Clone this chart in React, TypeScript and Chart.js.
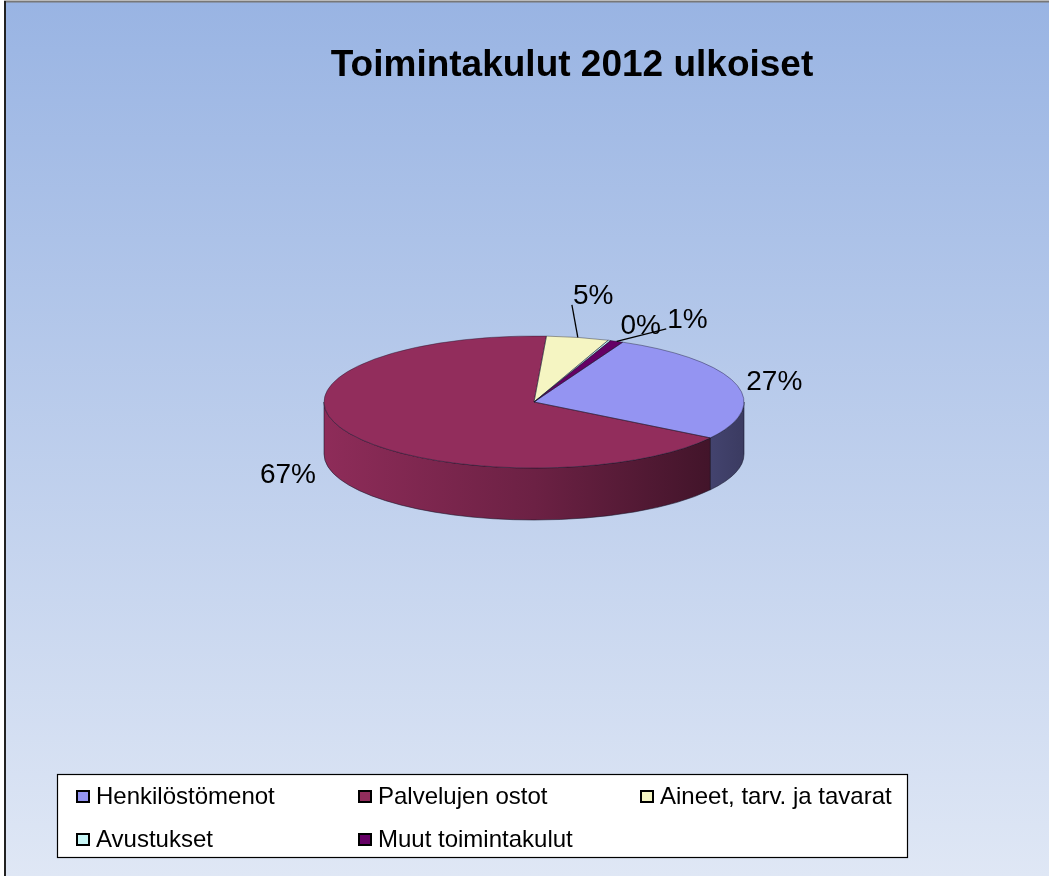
import React, { useEffect, useRef } from "react";
import { Chart, registerables } from "chart.js";

Chart.register(...registerables);

// ---- data ----
const TITLE = "Toimintakulut 2012 ulkoiset";
const CATEGORIES = [
  "Henkilöstömenot",
  "Palvelujen ostot",
  "Aineet, tarv. ja tavarat",
  "Avustukset",
  "Muut toimintakulut",
];
const VALUES = [27.2, 66.8, 4.8, 0.2, 1.0];
const COLORS = ["#9494F2", "#922D5C", "#F5F5C2", "#C8F7F7", "#650065"];

// ---- layout / style ----
const W = 1049;
const H = 876;
const CX = 534;
const CY = 402;
const RX = 210;
const RY = 66;
const DEPTH = 52;
const ROTATION = 25;
const LABEL_NUDGE_X = [0, -23, 7, 17, 55];
const LABEL_NUDGE_Y = [4, -18, -22, 5, -3];
const FONT = '"Liberation Sans", Arial, Helvetica, sans-serif';

function hexToRgb(hex: string) {
  const n = parseInt(hex.slice(1), 16);
  return [(n >> 16) & 255, (n >> 8) & 255, n & 255];
}
function shade(hex: string, f: number) {
  const [r, g, b] = hexToRgb(hex);
  return `rgb(${Math.round(r * f)},${Math.round(g * f)},${Math.round(b * f)})`;
}

function frontSegments(s: number, e: number) {
  const segs: [number, number][] = [];
  for (let k = -2; k <= 2; k++) {
    const lo = Math.max(s, 2 * Math.PI * k);
    const hi = Math.min(e, 2 * Math.PI * k + Math.PI);
    if (hi > lo) segs.push([lo, hi]);
  }
  return segs;
}

const pie3d = {
  id: "pie3d",
  beforeDraw(chart: any) {
    const ctx = chart.ctx as CanvasRenderingContext2D;
    ctx.save();
    ctx.fillStyle = "#ffffff";
    ctx.fillRect(0, 0, W, H);
    const g = ctx.createLinearGradient(0, 0, 0, H);
    g.addColorStop(0, "#99B4E3");
    g.addColorStop(1, "#DFE7F5");
    ctx.fillStyle = g;
    ctx.fillRect(5, 2, W - 5, H - 2);
    ctx.fillStyle = "#777777";
    ctx.fillRect(4, 0.5, W - 4, 2);
    ctx.fillStyle = "#222222";
    ctx.fillRect(4, 1, 2, H - 1);
    ctx.restore();
  },
  beforeDatasetsDraw(chart: any) {
    const ctx = chart.ctx as CanvasRenderingContext2D;
    const meta = chart.getDatasetMeta(0);
    // side walls
    ctx.save();
    meta.data.forEach((arc: any, i: number) => {
      const { startAngle, endAngle } = arc.getProps(["startAngle", "endAngle"], true);
      const segs = frontSegments(startAngle, endAngle);
      segs.forEach(([lo, hi]) => {
        const grad = ctx.createLinearGradient(CX - RX, 0, CX + RX, 0);
        grad.addColorStop(0, shade(COLORS[i], 0.97));
        grad.addColorStop(0.5, shade(COLORS[i], 0.74));
        grad.addColorStop(1, shade(COLORS[i], 0.4));
        ctx.beginPath();
        ctx.ellipse(CX, CY, RX, RY, 0, lo, hi);
        ctx.ellipse(CX, CY + DEPTH, RX, RY, 0, hi, lo, true);
        ctx.closePath();
        ctx.fillStyle = grad;
        ctx.fill();
        ctx.strokeStyle = "rgba(20,20,40,0.55)";
        ctx.lineWidth = 1;
        ctx.stroke();
      });
    });
    ctx.restore();
    // squash the pie drawn by Chart.js into an ellipse
    const ca = chart.chartArea;
    const cy = (ca.top + ca.bottom) / 2;
    ctx.save();
    ctx.translate(0, CY);
    ctx.scale(1, RY / RX);
    ctx.translate(0, -cy);
  },
  afterDatasetsDraw(chart: any) {
    const ctx = chart.ctx as CanvasRenderingContext2D;
    ctx.restore();
    const meta = chart.getDatasetMeta(0);
    const total = VALUES.reduce((a, b) => a + b, 0);
    ctx.save();
    // top outlines
    meta.data.forEach((arc: any) => {
      const { startAngle, endAngle } = arc.getProps(["startAngle", "endAngle"], true);
      ctx.beginPath();
      ctx.moveTo(CX, CY);
      ctx.ellipse(CX, CY, RX, RY, 0, startAngle, endAngle);
      ctx.closePath();
      ctx.strokeStyle = "rgba(20,20,40,0.5)";
      ctx.lineWidth = 0.8;
      ctx.stroke();
    });
    // labels
    ctx.font = `28px ${FONT}`;
    ctx.fillStyle = "#000000";
    ctx.textAlign = "center";
    ctx.textBaseline = "middle";
    meta.data.forEach((arc: any, i: number) => {
      const { startAngle, endAngle } = arc.getProps(["startAngle", "endAngle"], true);
      const mid = (startAngle + endAngle) / 2;
      const c = Math.cos(mid);
      const s = Math.sin(mid);
      const lx = CX + (RX + 40) * c + LABEL_NUDGE_X[i];
      const ly = CY + (RY + 20) * s + (s > 0 ? DEPTH : 0) + LABEL_NUDGE_Y[i];
      const text = Math.round((VALUES[i] / total) * 100) + "%";
      ctx.fillText(text, lx, ly);
      const ax = CX + RX * c;
      const ay = CY + RY * s;
      const tw = ctx.measureText(text).width;
      const th = 26;
      const nx = Math.min(Math.max(ax, lx - tw / 2), lx + tw / 2);
      const ny = Math.min(Math.max(ay, ly - th / 2), ly + th / 2);
      const d = Math.hypot(nx - ax, ny - ay);
      if (VALUES[i] / total < 0.1 && d > 15) {
        // connect to the label's near side edge
        const ex = ax < lx ? lx - tw / 2 - 1 : lx + tw / 2 + 1;
        const ey = Math.min(Math.max(ay, ly - th / 2 + 4), ly + th / 2 - 4);
        ctx.beginPath();
        ctx.moveTo(ax, ay);
        ctx.lineTo(ex, ey);
        ctx.strokeStyle = "#000000";
        ctx.lineWidth = 1.3;
        ctx.stroke();
      }
    });
    ctx.restore();
  },
  afterDraw(chart: any) {
    const ctx = chart.ctx as CanvasRenderingContext2D;
    ctx.save();
    // title
    ctx.font = `bold 37px ${FONT}`;
    ctx.fillStyle = "#000000";
    ctx.textAlign = "center";
    ctx.textBaseline = "alphabetic";
    ctx.fillText(TITLE, 572, 76);
    // legend box
    ctx.fillStyle = "#ffffff";
    ctx.fillRect(57, 774, 850, 83);
    ctx.strokeStyle = "#000000";
    ctx.lineWidth = 1.2;
    ctx.strokeRect(57.5, 774.5, 850, 83);
    ctx.font = `24px ${FONT}`;
    ctx.textAlign = "left";
    CATEGORIES.forEach((name, i) => {
      const col = i % 3;
      const row = Math.floor(i / 3);
      const mx = 76 + col * 282;
      const base = 804 + row * 43;
      ctx.fillStyle = COLORS[i];
      ctx.fillRect(mx + 1, base - 13, 12, 11);
      ctx.strokeStyle = "#000000";
      ctx.lineWidth = 2;
      ctx.strokeRect(mx + 1, base - 13, 12, 11);
      ctx.fillStyle = "#000000";
      ctx.fillText(name, mx + 20, base);
    });
    ctx.restore();
  },
};

export default function App() {
  const ref = useRef<HTMLCanvasElement | null>(null);
  useEffect(() => {
    document.body.style.margin = "0";
    const canvas = ref.current;
    if (!canvas) return;
    const chart = new Chart(canvas, {
      type: "pie",
      data: {
        labels: CATEGORIES,
        datasets: [
          {
            data: VALUES,
            backgroundColor: COLORS,
            borderWidth: 0,
            hoverOffset: 0,
          },
        ],
      },
      options: {
        responsive: false,
        animation: false,
        events: [],
        rotation: ROTATION,
        layout: {
          padding: {
            left: CX - RX,
            right: W - (CX + RX),
            top: CY - RX,
            bottom: H - (CY + RX),
          },
        },
        plugins: {
          legend: { display: false },
          title: { display: false },
          tooltip: { enabled: false },
        },
      },
      plugins: [pie3d],
    });
    return () => chart.destroy();
  }, []);
  return (
    <div style={{ width: W, height: H }}>
      <canvas ref={ref} width={W} height={H} style={{ display: "block" }} />
    </div>
  );
}
